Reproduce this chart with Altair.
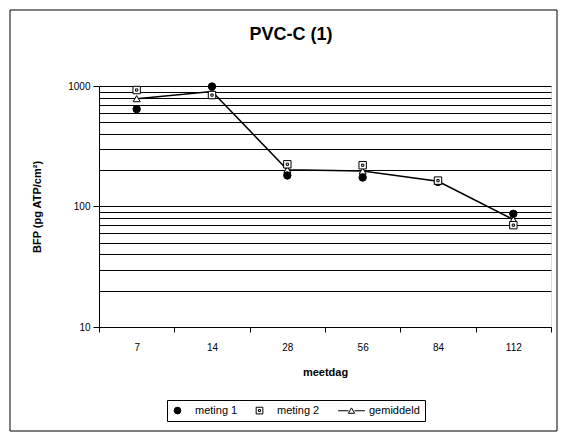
import altair as alt
import pandas as pd

days = ["7", "14", "28", "56", "84", "112"]
meting1 = [643, 990, 181, 174, 160, 87]
meting2 = [926, 841, 224, 220, 164, 70]
gemiddeld = [785, 900, 202, 197, 162, 78]
series_names = ["meting 1", "meting 2", "gemiddeld"]
grid_values = [10, 20, 30, 40, 50, 60, 70, 80, 90,
               100, 200, 300, 400, 500, 600, 700, 800, 900, 1000]

df = pd.DataFrame({
    "dag": days * 3,
    "serie": [series_names[0]] * 6 + [series_names[1]] * 6 + [series_names[2]] * 6,
    "waarde": meting1 + meting2 + gemiddeld,
})

FONT = "Liberation Sans"
SQUARE_DOT = "M-1,-1H1V1H-1Z M-0.3,-0.3H0.3V0.3H-0.3Z"
LINE_TRI = "M-4,0H-0.9 M0.9,0H4 M0,-0.85L0.95,0.75H-0.95Z"

x_enc = alt.X("dag:N", sort=days, title="meetdag",
              scale=alt.Scale(paddingInner=0, paddingOuter=0),
              axis=alt.Axis(labelAngle=0, tickBand="extent", tickSize=5,
                            labelPadding=10, titlePadding=14, grid=False,
                            domainColor="black", tickColor="black"))
y_enc = alt.Y("waarde:Q", title="BFP (pg ATP/cm²)",
              scale=alt.Scale(type="log", domain=[10, 1000], nice=False),
              axis=alt.Axis(values=grid_values, format="d",
                            labelExpr="(datum.value == 10 || datum.value == 100 || datum.value == 1000) ? datum.label : ''",
                            tickOpacity={"condition": {"test": "datum.value == 10 || datum.value == 100 || datum.value == 1000", "value": 1}, "value": 0},
                            tickSize=6, labelPadding=3, titlePadding=25,
                            grid=True, gridColor="black", gridWidth=1, gridOpacity=1,
                            domainColor="black", tickColor="black"))

legend_props = dict(orient="none", legendX=68, legendY=314, direction="horizontal",
                    strokeColor="black", fillColor="white", padding=5,
                    labelFont=FONT, labelFontSize=11, labelColor="black",
                    labelOffset=12, columnPadding=16, symbolSize=45,
                    symbolStrokeWidth=1)

base = alt.Chart(df)

points = base.transform_filter(
    alt.FieldOneOfPredicate(field="serie", oneOf=["meting 1", "meting 2"])
).mark_point(filled=True, strokeWidth=1, size=55, opacity=1).encode(
    x=x_enc, y=y_enc,
    shape=alt.Shape("serie:N", title=None,
                    scale=alt.Scale(domain=series_names, range=["circle", SQUARE_DOT, LINE_TRI]),
                    legend=alt.Legend(**legend_props)),
    fill=alt.Fill("serie:N", title=None,
                  scale=alt.Scale(domain=series_names, range=["black", "white", "white"]),
                  legend=alt.Legend(**legend_props)),
    stroke=alt.Stroke("serie:N", title=None,
                      scale=alt.Scale(domain=series_names, range=["black", "black", "black"]),
                      legend=alt.Legend(**legend_props)),
)

gem = base.transform_filter(alt.datum.serie == "gemiddeld")
line = gem.mark_line(color="black", strokeWidth=1.5).encode(x=x_enc, y=y_enc)
tri = gem.mark_point(shape="triangle-up", filled=True, fill="white", stroke="black",
                     strokeWidth=1, size=50, opacity=1).encode(x=x_enc, y=y_enc)

frame = alt.Chart(pd.DataFrame({"k": [0]})).mark_rect(
    fill="transparent", stroke="black", strokeWidth=1, clip=False
).encode(x=alt.value(-89), x2=alt.value(458), y=alt.value(-76), y2=alt.value(345))

chart = alt.layer(line, tri, points, frame).properties(
    width=452, height=241,
    title=alt.TitleParams("PVC-C (1)", font=FONT, fontSize=18, fontWeight="bold",
                          anchor="middle", dx=-34, offset=-34, color="black"),
    autosize=alt.AutoSizeParams(type="none"),
    padding={"left": 91, "top": 78, "right": 8, "bottom": 106},
).configure_view(stroke="black", strokeWidth=1).configure_axis(
    labelFont=FONT, labelFontSize=11, labelColor="black",
    titleFont=FONT, titleFontSize=12, titleFontWeight="bold", titleColor="black",
).configure(background="white")

chart.save("out.html", embed_options={"renderer": "svg", "actions": False})
